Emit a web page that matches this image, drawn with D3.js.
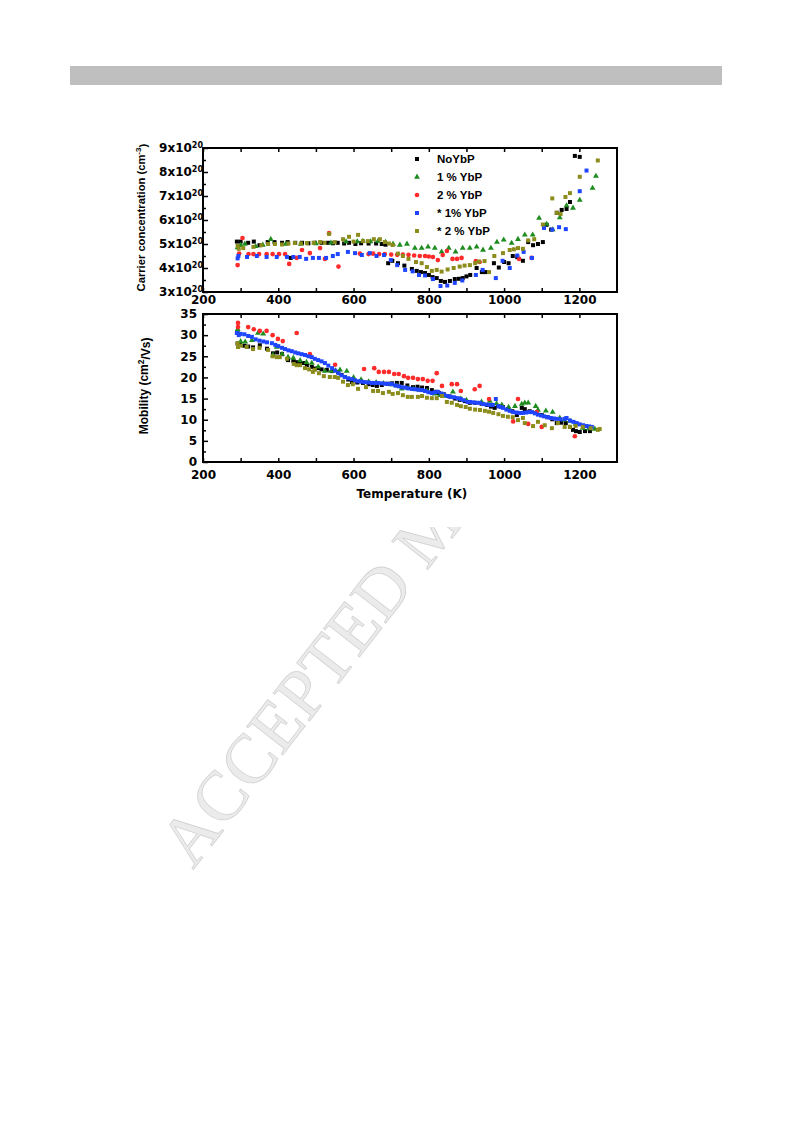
<!DOCTYPE html>
<html>
<head>
<meta charset="utf-8">
<script src="https://cdn.jsdelivr.net/npm/d3@7"></script>
<style>
  body { margin: 0; background: #fff; }
  .tick text { font-family: "DejaVu Sans", sans-serif; font-weight: bold; font-size: 12px; fill: #000; }
  .tick line { stroke: #000; stroke-width: 1.5; }
</style>
</head>
<body>
<svg id="chart"></svg>
<script>
// ---- data: [temperature K, value] ----
// carrier concentration, units of 1e20 cm^-3
const noYbP_n = [[290,5.1],[300,5.1],[320,5.05],[335,5.1],[350,4.95],[372,5.08],[390,5.08],[410,5.05],[425,5.08],[433,4.42],[445,5.05],[463,5.05],[480,5.03],[497,5.05],[515,5.05],[532,5.05],[545,5.03],[558,5.05],[575,5.02],[588,5.05],[605,5.0],[620,5.03],[640,5.02],[660,5.02],[675,5.0],[685,4.97],[692,4.2],[703,4.3],[718,4.2],[735,4.1],[755,3.96],[768,3.88],[779,3.83],[790,3.79],[800,3.71],[810,3.62],[821,3.58],[832,3.46],[843,3.42],[856,3.46],[869,3.54],[880,3.55],[890,3.58],[900,3.65],[910,3.71],[927,4.0],[941,3.83],[950,3.83],[973,4.2],[986,4.02],[1000,4.25],[1012,4.2],[1023,4.5],[1035,4.45],[1050,4.3],[1064,5.08],[1077,4.95],[1090,5.0],[1103,5.08],[1113,5.8],[1125,5.6],[1140,6.3],[1153,6.42],[1166,6.46],[1175,6.75],[1188,8.67],[1201,8.63]];
const pct1_n = [[292,4.85],[300,4.95],[311,5.0],[340,4.9],[359,4.96],[380,5.2],[420,5.0],[460,5.0],[500,5.02],[540,5.05],[580,5.1],[610,5.1],[625,5.12],[645,5.1],[665,5.12],[685,5.08],[705,5.0],[723,4.96],[742,5.0],[763,4.83],[781,4.83],[798,4.88],[816,4.83],[834,4.67],[853,4.83],[871,4.67],[890,4.83],[909,4.83],[927,4.88],[944,4.75],[965,4.83],[981,5.08],[999,5.17],[1020,5.04],[1037,5.2],[1055,5.38],[1076,5.38],[1093,6.08],[1113,5.83],[1129,5.6],[1148,6.1],[1166,6.6],[1183,6.5],[1201,6.83],[1235,7.33],[1244,7.83]];
const pct2_n = [[292,4.12],[296,4.6],[305,5.25],[321,4.58],[334,4.58],[349,4.58],[369,4.58],[385,4.58],[402,4.58],[418,4.58],[429,4.17],[449,4.42],[463,4.75],[484,4.62],[511,4.83],[524,4.38],[535,5.45],[560,4.06],[617,4.6],[640,4.58],[652,4.6],[668,4.58],[683,4.58],[700,4.56],[716,4.55],[731,4.56],[746,4.55],[761,4.52],[776,4.5],[790,4.5],[800,4.48],[811,4.46],[824,4.33],[837,4.54],[848,4.71],[863,4.38],[875,4.38],[887,4.42],[925,4.29],[935,4.25],[1040,4.38],[1073,4.42]];
const star1_n = [[292,4.4],[294,4.5],[317,4.46],[343,4.5],[369,4.46],[396,4.46],[423,4.46],[440,4.46],[457,4.46],[474,4.38],[492,4.42],[508,4.42],[527,4.42],[545,4.5],[558,4.58],[585,4.67],[604,4.62],[622,4.54],[643,4.62],[661,4.5],[681,4.54],[699,4.33],[716,4.12],[737,3.92],[757,3.86],[774,3.71],[790,3.69],[811,3.54],[831,3.25],[849,3.27],[869,3.38],[889,3.48],[925,3.71],[943,3.92],[978,3.58],[996,4.3],[1015,4.0],[1035,4.52],[1052,4.67],[1074,4.42],[1106,5.67],[1128,5.6],[1146,5.7],[1164,5.62],[1201,7.2],[1219,8.06]];
const star2_n = [[292,4.92],[295,4.8],[307,4.83],[334,4.88],[355,4.95],[373,5.0],[391,5.0],[410,4.98],[427,5.02],[444,5.04],[460,5.02],[476,5.04],[494,5.05],[511,5.08],[523,5.05],[535,5.42],[550,5.08],[572,5.2],[588,5.3],[600,5.1],[612,5.38],[625,5.12],[638,5.12],[654,5.2],[670,5.2],[683,5.08],[694,5.02],[704,4.96],[718,4.6],[731,4.5],[746,4.38],[766,4.25],[781,4.2],[795,4.04],[808,3.88],[821,3.92],[834,3.85],[850,3.94],[866,4.0],[882,4.06],[895,4.1],[909,4.12],[923,4.2],[933,4.27],[948,4.29],[960,3.83],[974,4.5],[997,4.62],[1015,4.75],[1026,4.78],[1037,4.83],[1050,4.8],[1064,5.15],[1080,5.2],[1103,5.81],[1128,6.9],[1140,6.3],[1150,6.25],[1163,6.96],[1175,7.12],[1201,7.8],[1249,8.48]];

// mobility, cm^2/Vs
const noYbP_mu = [[292,28.0],[298,27.7],[310,27.5],[320,27.3],[333,27.1],[351,27.6],[370,26.8],[386,25.7],[397,25.9],[410,25.5],[426,24.1],[440,23.9],[449,23.6],[458,23.5],[466,23.4],[476,22.9],[489,22.5],[497,22.1],[506,22.2],[515,21.9],[529,21.8],[543,21.5],[559,21.3],[568,20.6],[577,20.1],[586,19.5],[596,18.9],[610,18.8],[625,18.7],[640,18.4],[651,18.2],[662,18.0],[675,18.2],[690,18.5],[702,18.6],[715,18.7],[728,18.7],[743,18.1],[758,17.7],[770,17.8],[782,17.6],[795,17.5],[808,17.0],[818,16.6],[827,16.3],[840,16.0],[855,15.5],[870,15.0],[882,14.7],[896,14.4],[909,14.0],[923,14.0],[940,13.8],[955,13.5],[965,13.1],[975,12.8],[984,13.2],[997,13.0],[1010,12.5],[1022,12.0],[1034,11.1],[1047,12.8],[1055,12.5],[1068,12.0],[1082,11.6],[1100,11.1],[1115,10.6],[1128,10.1],[1140,9.2],[1152,9.3],[1164,9.2],[1175,8.3],[1183,7.6],[1191,7.3],[1201,7.1],[1215,7.3],[1228,7.3]];
const pct1_mu = [[292,31.4],[295,30.5],[300,28.5],[312,28.4],[330,28.8],[346,30.5],[360,30.3],[386,25.3],[396,27.2],[410,25.5],[426,24.8],[440,24.6],[458,24.0],[475,23.6],[489,23.4],[506,22.5],[524,21.5],[540,21.5],[552,21.6],[564,21.8],[582,21.5],[600,20.0],[620,19.5],[640,19.0],[660,18.8],[680,18.6],[700,18.3],[715,18.0],[728,17.3],[745,17.4],[760,17.2],[775,17.0],[795,16.8],[816,16.1],[830,15.8],[843,15.6],[864,16.6],[885,15.0],[900,14.6],[940,14.2],[962,14.4],[980,13.8],[994,13.5],[1012,13.0],[1029,13.2],[1047,13.7],[1055,14.0],[1064,14.0],[1084,13.2],[1090,12.3],[1111,12.1],[1129,11.8],[1148,10.4],[1160,10.0],[1175,9.7],[1190,9.0],[1209,8.0],[1225,7.9],[1241,7.8]];
const pct2_mu = [[293,32.9],[293,31.9],[320,31.9],[335,31.4],[351,31.0],[369,31.0],[385,30.0],[399,29.1],[412,28.6],[449,30.5],[484,25.5],[551,23.0],[628,22.0],[655,22.2],[667,21.3],[681,21.3],[694,21.3],[708,20.8],[720,20.8],[734,20.3],[745,19.9],[758,19.9],[771,19.6],[784,19.6],[797,19.2],[810,19.2],[821,21.0],[835,18.0],[861,18.4],[875,18.4],[885,16.8],[922,17.2],[935,18.0],[960,14.9],[1024,9.6],[1037,14.9],[1064,9.0],[1087,11.8],[1100,8.3],[1188,6.1]];
const star1_mu = [[290,30.5],[295,30.0],[300,30.3],[310,30.2],[320,29.8],[330,29.6],[340,29.0],[350,28.7],[360,28.5],[370,28.3],[383,28.1],[392,27.7],[400,27.4],[410,27.0],[418,26.7],[427,26.4],[436,26.2],[445,25.9],[453,25.7],[462,25.5],[471,25.3],[480,25.0],[489,24.8],[497,24.4],[506,24.1],[515,23.8],[524,23.4],[533,22.8],[543,22.2],[551,21.6],[560,21.0],[568,20.5],[577,20.1],[586,19.8],[596,19.6],[604,19.3],[612,19.1],[621,19.0],[630,18.9],[640,18.8],[649,18.7],[657,18.7],[665,18.7],[675,18.6],[684,18.5],[693,18.5],[702,18.4],[711,18.1],[720,17.9],[728,17.7],[737,17.6],[746,17.4],[755,17.3],[764,17.2],[773,17.1],[782,17.0],[790,16.8],[799,16.5],[808,16.3],[816,16.5],[824,16.6],[833,16.2],[841,15.9],[850,15.6],[858,15.4],[867,15.3],[877,15.1],[885,14.9],[893,14.6],[903,14.2],[910,14.2],[918,14.1],[927,14.0],[936,14.0],[944,13.7],[953,13.6],[962,13.5],[970,13.5],[978,14.9],[985,13.2],[991,13.0],[997,12.8],[1006,12.4],[1015,12.1],[1024,11.8],[1033,11.7],[1042,11.6],[1050,11.6],[1058,11.7],[1066,11.8],[1074,11.8],[1082,11.5],[1090,11.2],[1098,11.0],[1106,10.8],[1116,10.6],[1124,10.4],[1132,10.3],[1140,10.2],[1150,10.1],[1161,10.2],[1166,10.4],[1175,9.8],[1184,9.5],[1193,9.2],[1201,8.9],[1210,8.7],[1219,8.5],[1226,8.4],[1233,8.3]];
const star2_mu = [[292,28.1],[293,27.2],[300,27.5],[316,27.2],[333,26.7],[350,27.0],[373,26.5],[385,25.0],[396,24.8],[404,24.8],[423,24.4],[441,23.2],[449,22.9],[458,22.9],[471,22.2],[482,21.9],[492,21.3],[497,21.8],[508,21.0],[521,20.3],[537,20.1],[550,20.1],[559,19.9],[572,19.0],[585,18.2],[598,18.4],[612,17.3],[633,17.7],[652,16.8],[665,16.8],[678,16.3],[694,16.6],[704,16.1],[718,16.3],[731,15.8],[744,15.4],[755,15.4],[771,15.4],[782,15.6],[795,15.2],[808,15.1],[821,15.1],[835,15.6],[848,14.2],[861,14.0],[875,13.5],[885,13.2],[898,13.0],[909,12.6],[923,12.4],[936,12.3],[949,12.1],[960,11.9],[971,11.6],[985,11.3],[997,10.9],[1010,10.7],[1023,10.6],[1037,9.9],[1050,10.4],[1055,9.2],[1077,8.5],[1090,9.5],[1108,8.7],[1127,8.0],[1143,9.2],[1161,8.3],[1175,8.3],[1190,8.5],[1209,8.3],[1230,8.0],[1249,7.6],[1254,7.8]];

const seriesNames = ["NoYbP", "1 % YbP", "2 % YbP", "* 1% YbP", "* 2 % YbP"];
const xTicks = [200, 300, 400, 500, 600, 700, 800, 900, 1000, 1100, 1200];

const series = [
  { name: seriesNames[0], n: noYbP_n, mu: noYbP_mu, color: "#000000", shape: d3.symbolSquare, size: 16 },
  { name: seriesNames[1], n: pct1_n, mu: pct1_mu, color: "#1e8c1e", shape: d3.symbolTriangle, size: 15 },
  { name: seriesNames[2], n: pct2_n, mu: pct2_mu, color: "#ff2a2a", shape: d3.symbolCircle, size: 17 },
  { name: seriesNames[3], n: star1_n, mu: star1_mu, color: "#1f45ff", shape: d3.symbolSquare, size: 16 },
  { name: seriesNames[4], n: star2_n, mu: star2_mu, color: "#8c8c1c", shape: d3.symbolSquare, size: 16 }
];

const svg = d3.select("#chart").attr("width", 793).attr("height", 1123);

// header band
svg.append("rect").attr("x", 70).attr("y", 66).attr("width", 652).attr("height", 19).attr("fill", "#bfbfbf");

// watermark, mostly hidden behind the figure
svg.append("text")
  .attr("transform", "translate(193,870) rotate(-52)")
  .style("font-family", "'Liberation Serif', serif")
  .style("font-size", "70px")
  .attr("fill", "#ebebeb")
  .attr("stroke", "#d2d2d2")
  .attr("stroke-width", 0.8)
  .text("ACCEPTED MANUSCRIPT");

svg.append("rect").attr("x", 120).attr("y", 100).attr("width", 673).attr("height", 427).attr("fill", "#fff");

const x = d3.scaleLinear().domain([200, 1300]).range([203, 617]);
const yTop = d3.scaleLinear().domain([3, 9]).range([292, 148]);
const yBot = d3.scaleLinear().domain([0, 35]).range([462, 314]);

function xAxes(top, bottom, pad) {
  svg.append("g").attr("transform", "translate(0," + bottom + ")")
    .call(d3.axisBottom(x).tickValues(xTicks).tickSizeInner(-4).tickSizeOuter(0).tickPadding(pad)
      .tickFormat(d => d % 200 === 0 ? d : ""))
    .call(g => g.select(".domain").remove());
  svg.append("g").attr("transform", "translate(0," + top + ")")
    .call(d3.axisTop(x).tickValues(xTicks).tickSizeInner(-4).tickSizeOuter(0).tickFormat(""))
    .call(g => g.select(".domain").remove());
}

// ---- top panel ----
xAxes(148, 292, 3);

svg.append("g").attr("transform", "translate(203,0)")
  .call(d3.axisLeft(yTop).tickValues(d3.range(3.5, 9, 1)).tickSizeInner(-3).tickSizeOuter(0).tickFormat(""))
  .call(g => g.select(".domain").remove());
svg.append("g").attr("transform", "translate(203,0)")
  .call(d3.axisLeft(yTop).tickValues(d3.range(3, 9.01, 1)).tickSizeInner(-5).tickSizeOuter(0).tickFormat(""))
  .call(g => g.select(".domain").remove())
  .call(g => g.selectAll(".tick").append("text")
    .attr("x", 0).attr("dy", "0.32em").attr("text-anchor", "end")
    .each(function(d) {
      const t = d3.select(this);
      t.append("tspan").text(d + "x10");
      t.append("tspan").attr("dy", "-0.55em").style("font-size", "8px").text("20");
    }));

svg.append("rect").attr("x", 203).attr("y", 148).attr("width", 414).attr("height", 144)
  .attr("fill", "none").attr("stroke", "#000").attr("stroke-width", 2);

svg.append("text")
  .attr("transform", "translate(145," + yTop(6.1) + ") rotate(-90)")
  .attr("text-anchor", "middle")
  .style("font-family", "'Liberation Sans', Arial, sans-serif").style("font-weight", "bold").style("font-size", "11.2px")
  .call(t => {
    t.append("tspan").text("Carrier concentration (cm");
    t.append("tspan").attr("dy", "-0.5em").style("font-size", "8px").text("-3");
    t.append("tspan").attr("dy", "0.5em").text(")");
  });

// ---- bottom panel ----
xAxes(314, 462, 8);

svg.append("g").attr("transform", "translate(203,0)")
  .call(d3.axisLeft(yBot).tickValues(d3.range(2.5, 35, 5)).tickSizeInner(-3).tickSizeOuter(0).tickFormat(""))
  .call(g => g.select(".domain").remove());
svg.append("g").attr("transform", "translate(203,0)")
  .call(d3.axisLeft(yBot).tickValues(d3.range(0, 36, 5)).tickSizeInner(-5).tickSizeOuter(0).tickPadding(6))
  .call(g => g.select(".domain").remove());

svg.append("rect").attr("x", 203).attr("y", 314).attr("width", 414).attr("height", 148)
  .attr("fill", "none").attr("stroke", "#000").attr("stroke-width", 2);

svg.append("text")
  .attr("transform", "translate(148," + yBot(18) + ") rotate(-90)")
  .attr("text-anchor", "middle")
  .style("font-family", "'Liberation Sans', Arial, sans-serif").style("font-weight", "bold").style("font-size", "12px")
  .call(t => {
    t.append("tspan").text("Mobility (cm");
    t.append("tspan").attr("dy", "-0.5em").style("font-size", "8.5px").text("2");
    t.append("tspan").attr("dy", "0.5em").text("/Vs)");
  });

svg.append("text")
  .attr("x", x(755)).attr("y", 498)
  .attr("text-anchor", "middle")
  .style("font-family", "'DejaVu Sans', sans-serif").style("font-weight", "bold").style("font-size", "12px")
  .text("Temperature (K)");

// ---- markers ----
series.forEach(s => {
  const sym = d3.symbol().type(s.shape).size(s.size);
  svg.append("g").selectAll("path").data(s.n).enter().append("path")
    .attr("d", sym)
    .attr("transform", d => "translate(" + x(d[0]) + "," + yTop(d[1]) + ")")
    .attr("fill", s.color);
  svg.append("g").selectAll("path").data(s.mu).enter().append("path")
    .attr("d", sym)
    .attr("transform", d => "translate(" + x(d[0]) + "," + yBot(d[1]) + ")")
    .attr("fill", s.color);
});

// ---- legend ----
const legend = svg.append("g").attr("transform", "translate(417,159)");
series.forEach((s, i) => {
  legend.append("path")
    .attr("d", d3.symbol().type(s.shape).size(s.size))
    .attr("transform", "translate(0," + (i * 18) + ")")
    .attr("fill", s.color);
  legend.append("text")
    .attr("x", 20).attr("y", i * 18).attr("dy", "0.36em")
    .style("font-family", "'Liberation Sans', Arial, sans-serif").style("font-weight", "bold").style("font-size", "11.5px")
    .text(s.name);
});
</script>
</body>
</html>
